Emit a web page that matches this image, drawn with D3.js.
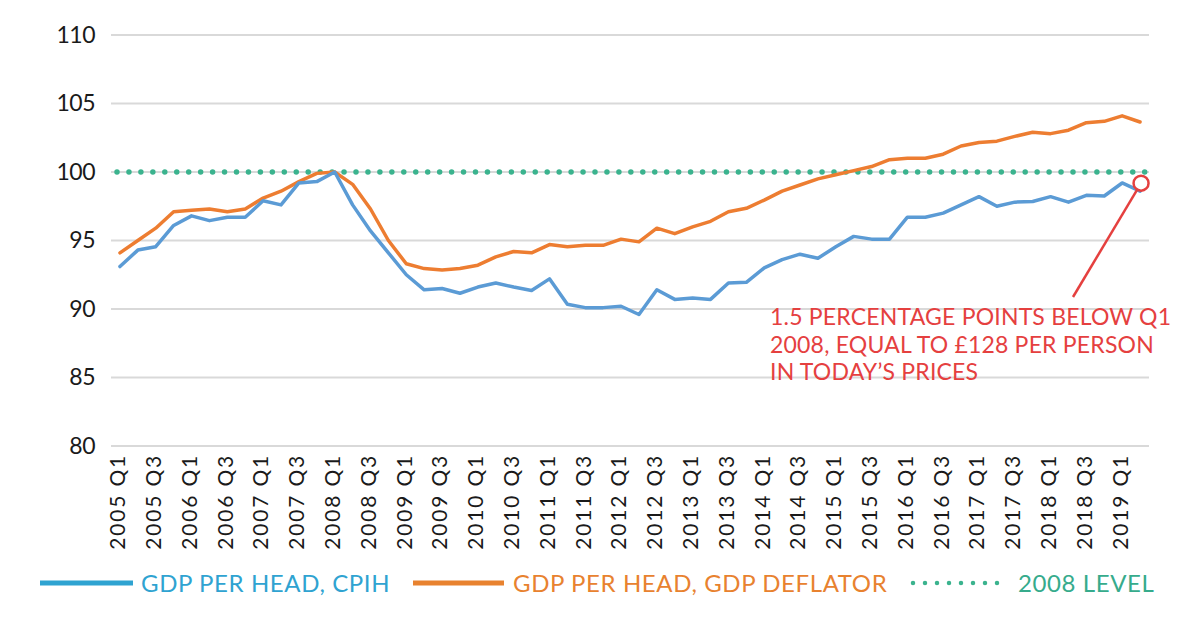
<!DOCTYPE html>
<html>
<head>
<meta charset="utf-8">
<script src="https://cdn.jsdelivr.net/npm/d3@7"></script>
<style>
  html, body { margin: 0; padding: 0; background: #fff; }
  svg { display: block; font-family: Lato, "Noto Sans", sans-serif; }
</style>
</head>
<body>
<svg id="chart" width="1200" height="628"></svg>
<script>
const categories = [
  "2005 Q1","2005 Q2","2005 Q3","2005 Q4","2006 Q1","2006 Q2","2006 Q3","2006 Q4",
  "2007 Q1","2007 Q2","2007 Q3","2007 Q4","2008 Q1","2008 Q2","2008 Q3","2008 Q4",
  "2009 Q1","2009 Q2","2009 Q3","2009 Q4","2010 Q1","2010 Q2","2010 Q3","2010 Q4",
  "2011 Q1","2011 Q2","2011 Q3","2011 Q4","2012 Q1","2012 Q2","2012 Q3","2012 Q4",
  "2013 Q1","2013 Q2","2013 Q3","2013 Q4","2014 Q1","2014 Q2","2014 Q3","2014 Q4",
  "2015 Q1","2015 Q2","2015 Q3","2015 Q4","2016 Q1","2016 Q2","2016 Q3","2016 Q4",
  "2017 Q1","2017 Q2","2017 Q3","2017 Q4","2018 Q1","2018 Q2","2018 Q3","2018 Q4",
  "2019 Q1","2019 Q2"
];
const gdpPerHeadCPIH = [
  93.1, 94.3, 94.55, 96.1, 96.8, 96.45, 96.7, 96.7,
  97.9, 97.6, 99.2, 99.3, 100.0, 97.6, 95.7, 94.1,
  92.5, 91.4, 91.5, 91.15, 91.6, 91.9, 91.6, 91.35,
  92.2, 90.35, 90.1, 90.1, 90.2, 89.6, 91.4, 90.7,
  90.8, 90.7, 91.9, 91.95, 93.0, 93.6, 94.0, 93.7,
  94.55, 95.3, 95.1, 95.1, 96.7, 96.7, 97.0, 97.6,
  98.2, 97.5, 97.8, 97.85, 98.2, 97.8, 98.3, 98.25,
  99.2, 98.6
];
const gdpPerHeadDeflator = [
  94.1, 95.0, 95.9, 97.1, 97.2, 97.3, 97.1, 97.3,
  98.1, 98.6, 99.3, 99.9, 100.0, 99.1, 97.3, 95.0,
  93.3, 92.95, 92.85, 92.95, 93.2, 93.8, 94.2, 94.1,
  94.7, 94.55, 94.65, 94.65, 95.1, 94.9, 95.9, 95.5,
  96.0, 96.4, 97.1, 97.35, 97.95, 98.6, 99.05, 99.5,
  99.8, 100.1, 100.4, 100.9, 101.0, 101.0, 101.3, 101.9,
  102.15, 102.25, 102.6, 102.9, 102.8, 103.05, 103.6, 103.7,
  104.1, 103.65
];
const level2008 = 100;
const yTicks = [80, 85, 90, 95, 100, 105, 110];
const tickLabels = categories.filter((d, i) => i % 2 === 0);
const seriesNames = ["GDP PER HEAD, CPIH", "GDP PER HEAD, GDP DEFLATOR", "2008 LEVEL"];
const annotationLines = ["1.5 PERCENTAGE POINTS BELOW Q1", "2008, EQUAL TO £128 PER PERSON", "IN TODAY\u2019S PRICES"];

const colors = {
  cpih: "#5b9bd5", deflator: "#ed7d31", level: "#3bb38e",
  legCpih: "#2fa3d1", legDeflator: "#e8822f", legLevel: "#36ab8c",
  annot: "#e5403f", grid: "#d9d9d9", text: "#1a1a1a"
};

const svg = d3.select("#chart");
const plotLeft = 111, plotRight = 1149, plotTop = 35, plotBottom = 446;

const x = d3.scaleBand().domain(categories).range([plotLeft, plotRight]);
const y = d3.scaleLinear().domain([80, 110]).range([plotBottom, plotTop]);
const cx = d => x(d) + x.bandwidth() / 2;

// gridlines
svg.append("g").selectAll("line").data(yTicks).join("line")
  .attr("x1", plotLeft).attr("x2", plotRight)
  .attr("y1", d => y(d)).attr("y2", d => y(d))
  .attr("stroke", colors.grid).attr("stroke-width", 2);

// y axis labels
const yAxis = d3.axisLeft(y).tickValues(yTicks).tickSize(0).tickPadding(0);
const gy = svg.append("g").attr("transform", `translate(${plotLeft - 16},0)`).call(yAxis);
gy.select(".domain").remove();
gy.selectAll("text").attr("font-size", 23).attr("fill", colors.text)
  .attr("font-family", "Lato, sans-serif").attr("letter-spacing", -0.5);

// x axis labels
const xAxis = d3.axisBottom(x).tickValues(tickLabels).tickSize(0).tickPadding(0);
const gx = svg.append("g").attr("transform", `translate(0,${plotBottom})`).call(xAxis);
gx.select(".domain").remove();
gx.selectAll("text")
  .attr("font-size", 21).attr("fill", colors.text)
  .attr("font-family", "Lato, sans-serif")
  .attr("letter-spacing", 1.8)
  .attr("text-anchor", "end")
  .attr("transform", "rotate(-90)")
  .attr("x", -8).attr("y", -2).attr("dy", "0.35em");

// 2008 level dotted line
svg.append("line")
  .attr("x1", plotLeft + 6).attr("x2", plotRight)
  .attr("y1", y(level2008)).attr("y2", y(level2008))
  .attr("stroke", colors.level).attr("stroke-width", 5.5)
  .attr("stroke-linecap", "round").attr("stroke-dasharray", "0 11.95");

const line = d3.line().x((d, i) => cx(categories[i])).y(d => y(d));
svg.append("path").datum(gdpPerHeadDeflator).attr("d", line)
  .attr("fill", "none").attr("stroke", colors.deflator).attr("stroke-width", 3.5)
  .attr("stroke-linejoin", "round").attr("stroke-linecap", "round");
svg.append("path").datum(gdpPerHeadCPIH).attr("d", line)
  .attr("fill", "none").attr("stroke", colors.cpih).attr("stroke-width", 3.5)
  .attr("stroke-linejoin", "round").attr("stroke-linecap", "round");

// annotation
const lastCat = categories[categories.length - 1];
const lastVal = gdpPerHeadCPIH[gdpPerHeadCPIH.length - 1];
const ccx = cx(lastCat) + 1, ccy = y(lastVal) - 8, r = 7.5;
const tx = 1073, ty = 297;
const ang = Math.atan2(ty - ccy, tx - ccx);
svg.append("line")
  .attr("x1", ccx + r * Math.cos(ang)).attr("y1", ccy + r * Math.sin(ang))
  .attr("x2", tx).attr("y2", ty)
  .attr("stroke", colors.annot).attr("stroke-width", 2.5);
svg.append("circle").attr("cx", ccx).attr("cy", ccy).attr("r", r)
  .attr("fill", "#fff").attr("stroke", colors.annot).attr("stroke-width", 2.5);
svg.append("g").selectAll("text").data(annotationLines).join("text")
  .attr("x", 770).attr("y", (d, i) => 325 + i * 27.5)
  .attr("font-size", 23).attr("fill", colors.annot).attr("letter-spacing", 0.2)
  .text(d => d);

// legend
const legY = 583;
const leg = svg.append("g").attr("font-size", 24).attr("letter-spacing", 0.6);
leg.append("line").attr("x1", 40).attr("x2", 133).attr("y1", legY).attr("y2", legY)
  .attr("stroke", colors.legCpih).attr("stroke-width", 5);
leg.append("text").attr("x", 141).attr("y", legY + 9)
  .attr("fill", colors.legCpih).text(seriesNames[0]);
leg.append("line").attr("x1", 413).attr("x2", 504).attr("y1", legY).attr("y2", legY)
  .attr("stroke", colors.legDeflator).attr("stroke-width", 5);
leg.append("text").attr("x", 513).attr("y", legY + 9)
  .attr("fill", colors.legDeflator).text(seriesNames[1]);
leg.append("line").attr("x1", 913).attr("x2", 1009).attr("y1", legY).attr("y2", legY)
  .attr("stroke", colors.level).attr("stroke-width", 4.5)
  .attr("stroke-linecap", "round").attr("stroke-dasharray", "0 12");
leg.append("text").attr("x", 1018).attr("y", legY + 9)
  .attr("fill", colors.legLevel).text(seriesNames[2]);
</script>
</body>
</html>
